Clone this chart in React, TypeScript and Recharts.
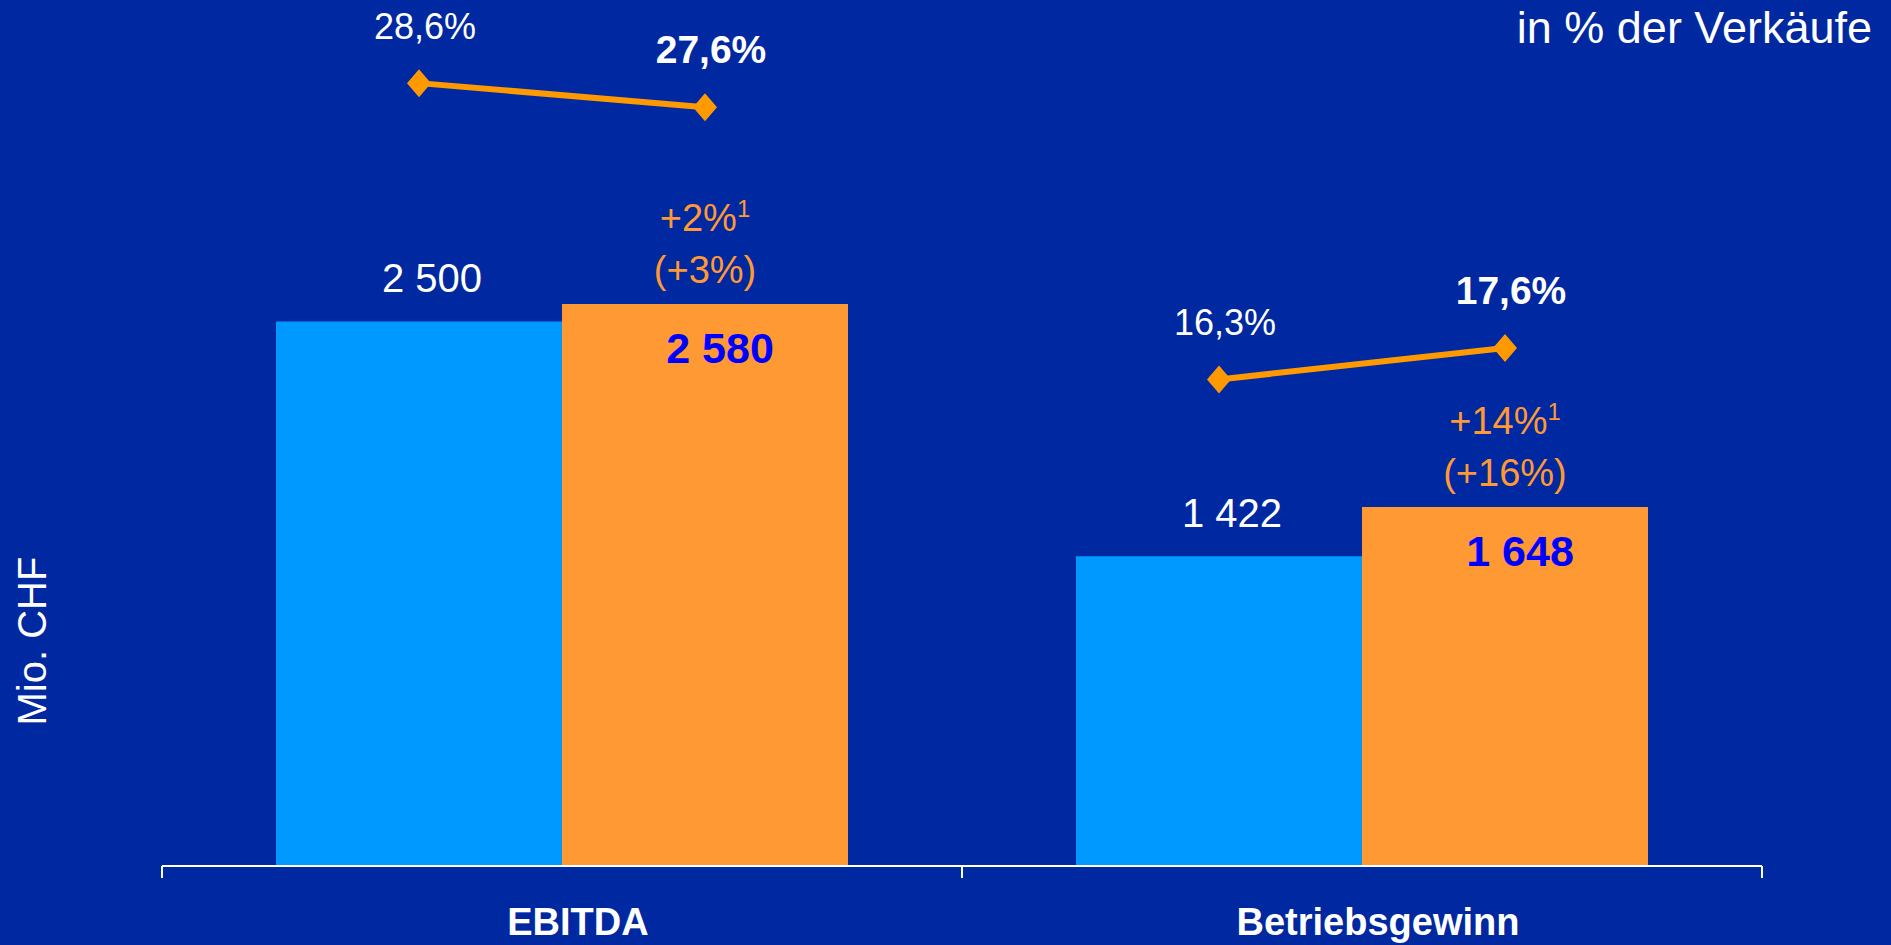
import React from 'react';
import { ComposedChart, Bar, Scatter, XAxis, YAxis, LabelList } from 'recharts';

const CATEGORIES = ['EBITDA', 'Betriebsgewinn'];
const VALUES_PREV = [2500, 1422];
const VALUES_CURR = [2580, 1648];
const MARGIN_PREV = [28.6, 16.3];
const MARGIN_CURR = [27.6, 17.6];
const GROWTH = ['+2%', '+14%'];
const GROWTH_LOCAL = ['(+3%)', '(+16%)'];
const AXIS_TICKS = [0, 0.5, 1, 1.5, 2];

const BG = '#0028A0';
const BLUE = '#0099FF';
const ORANGE = '#FF9933';
const LINE_ORANGE = '#FF9900';
const FONT = "'Liberation Sans', Arial, sans-serif";

// bars sit in a band of width 1, this gap is on each side
const BAR_GAP = 0.1425;
const HALF_BAR = (1 - 2 * BAR_GAP) / 4;

const barData = CATEGORIES.map((name, i) => ({
  name,
  prev: VALUES_PREV[i],
  curr: VALUES_CURR[i],
}));

const marginSeries = CATEGORIES.map((_, i) => [
  { x: i + 0.5 - HALF_BAR, y: MARGIN_PREV[i], bold: false },
  { x: i + 0.5 + HALF_BAR, y: MARGIN_CURR[i], bold: true },
]);

const fmtNum = (v: number) => String(v).replace(/\B(?=(\d{3})+(?!\d))/g, ' ');
const fmtPct = (v: number) => v.toFixed(1).replace('.', ',') + '%';

const prevLabel = (p: any) => {
  const { x, y, width, value } = p;
  return (
    <text x={x + width / 2 + 13} y={y - 29} textAnchor="middle" fill="#fff" fontSize={40} fontFamily={FONT}>
      {fmtNum(value)}
    </text>
  );
};

const currLabel = (p: any) => {
  const { x, y, width, value, index } = p;
  const cx = x + width / 2;
  return (
    <g>
      <text x={cx} y={y - 73} textAnchor="middle" fill={ORANGE} fontSize={38} fontFamily={FONT}>
        <tspan>{GROWTH[index]}</tspan>
        <tspan fontSize={24} dy={-14}>1</tspan>
      </text>
      <text x={cx} y={y - 21} textAnchor="middle" fill={ORANGE} fontSize={38} fontFamily={FONT}>
        {GROWTH_LOCAL[index]}
      </text>
      <text x={cx + 15} y={y + 59} textAnchor="middle" fill="#0000FF" fontSize={43} fontWeight="bold" fontFamily={FONT}>
        {fmtNum(value)}
      </text>
    </g>
  );
};

const MarginPoint = (p: any) => {
  const { cx, cy, payload } = p;
  return (
    <g>
      <polygon
        points={`${cx},${cy - 14} ${cx + 12},${cy} ${cx},${cy + 14} ${cx - 12},${cy}`}
        fill={LINE_ORANGE}
      />
      <text
        x={cx + 6}
        y={cy - 44}
        textAnchor="middle"
        fill="#fff"
        fontSize={payload.bold ? 39 : 36}
        fontWeight={payload.bold ? 'bold' : 'normal'}
        fontFamily={FONT}
      >
        {fmtPct(payload.y)}
      </text>
    </g>
  );
};

const AxisTick = (p: any) => {
  const { x, y, payload } = p;
  const v = payload.value;
  if (Number.isInteger(v)) {
    return <line x1={x} x2={x} y1={y} y2={y + 12} stroke="#fff" strokeWidth={2} />;
  }
  return (
    <text x={x + 16} y={y + 69} textAnchor="middle" fill="#fff" fontSize={38} fontWeight="bold" fontFamily={FONT}>
      {CATEGORIES[Math.floor(v)]}
    </text>
  );
};

export default function App() {
  return (
    <div style={{ position: 'absolute', left: 0, top: 0, width: 1891, height: 945, background: BG, overflow: 'hidden' }}>
      <ComposedChart
        width={1891}
        height={945}
        data={barData}
        margin={{ top: 47, right: 129, left: 162, bottom: 0 }}
        barCategoryGap={`${BAR_GAP * 100}%`}
        barGap={0}
      >
        <XAxis xAxisId="cat" dataKey="name" hide height={0} />
        <XAxis
          xAxisId="pos"
          dataKey="x"
          type="number"
          domain={[0, 2]}
          ticks={AXIS_TICKS}
          interval={0}
          height={79}
          tickSize={0}
          tickMargin={0}
          tickLine={false}
          axisLine={{ stroke: '#fff', strokeWidth: 2 }}
          tick={<AxisTick />}
        />
        <YAxis yAxisId="val" domain={[0, 3760]} hide />
        <YAxis yAxisId="pct" dataKey="y" domain={[-3.9, 30.1]} hide />
        <Bar xAxisId="cat" yAxisId="val" dataKey="prev" fill={BLUE} isAnimationActive={false}>
          <LabelList dataKey="prev" content={prevLabel} />
        </Bar>
        <Bar xAxisId="cat" yAxisId="val" dataKey="curr" fill={ORANGE} isAnimationActive={false}>
          <LabelList dataKey="curr" content={currLabel} />
        </Bar>
        {marginSeries.map((pts, i) => (
          <Scatter
            key={CATEGORIES[i]}
            xAxisId="pos"
            yAxisId="pct"
            data={pts}
            line={{ stroke: LINE_ORANGE, strokeWidth: 6 }}
            lineType="joint"
            shape={<MarginPoint />}
            isAnimationActive={false}
          />
        ))}
      </ComposedChart>
      <div
        style={{
          position: 'absolute',
          right: 19,
          top: 2,
          color: '#fff',
          fontFamily: FONT,
          fontSize: 45,
          lineHeight: '52px',
          whiteSpace: 'nowrap',
        }}
      >
        in % der Verkäufe
      </div>
      <div
        style={{
          position: 'absolute',
          left: 32,
          top: 641,
          transform: 'translate(-50%, -50%) rotate(-90deg)',
          color: '#fff',
          fontFamily: FONT,
          fontSize: 40,
          lineHeight: '46px',
          whiteSpace: 'nowrap',
        }}
      >
        Mio. CHF
      </div>
    </div>
  );
}
